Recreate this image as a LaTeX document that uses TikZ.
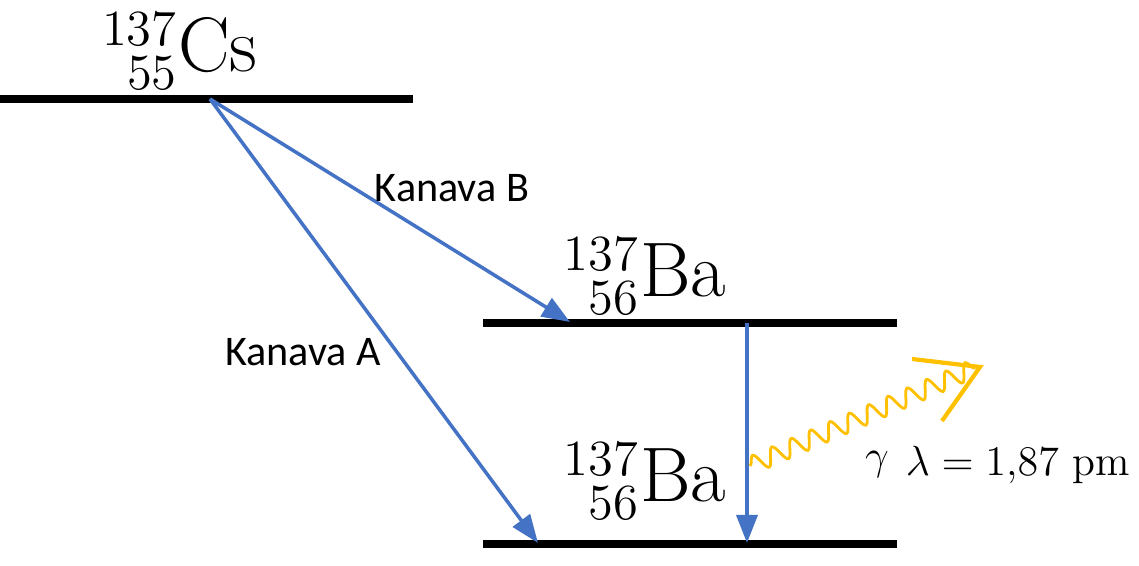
\documentclass[tikz,border=0pt]{standalone}
\usepackage{fontspec}
\setsansfont{Carlito}
\usetikzlibrary{decorations.pathmorphing,arrows.meta}
\definecolor{lineblue}{RGB}{68,114,196}
\definecolor{gammagold}{RGB}{255,192,0}
\tikzset{
  level/.style={line width=2.2pt},
  decay/.style={draw=lineblue,line width=1pt,-{Triangle[length=8pt,width=6pt]}},
  chan/.style={font=\sffamily\large},
  nuclide/.style={font=\fontsize{22}{26}\selectfont}
}
\begin{document}
\begin{tikzpicture}
  \useasboundingbox (0,0) rectangle (11.39,5.66);
  % levels
  \draw[level] (0,4.67) -- (4.13,4.67);
  \draw[level] (4.83,2.43) -- (8.97,2.43);
  \draw[level] (4.83,0.22) -- (8.97,0.22);
  \node[nuclide] (cs) at (1.8,5.15) {$^{137}_{\phantom{1}55}\mathrm{Cs}$};
  \node[nuclide] (ba1) at (6.45,2.90) {$^{137}_{\phantom{1}56}\mathrm{Ba}$};
  \node[nuclide] (ba2) at (6.45,0.85) {$^{137}_{\phantom{1}56}\mathrm{Ba}$};
  % decays
  \coordinate (start) at (2.10,4.67);
  \coordinate (endB) at (5.70,2.44);
  \coordinate (endA) at (5.38,0.23);
  \coordinate (top) at (7.47,2.43);
  \coordinate (bot) at (7.47,0.23);
  \draw[decay] (start) -- (endB);
  \draw[decay] (start) -- (endA);
  \draw[decay] (top) -- (bot);
  \node[chan] (kb) at (4.52,3.78) {Kanava B};
  \node[chan] (ka) at (3.03,2.14) {Kanava A};
  % gamma
  \coordinate (g0) at (7.50,1.00);
  \coordinate (g1) at (9.75,1.98);
  \draw[gammagold,line width=0.8pt,decorate,decoration={snake,amplitude=2.5pt,segment length=6pt}] (g0) -- (g1);
  \draw[gammagold,line width=1.2pt] (9.12,2.07) -- (9.80,1.99) -- (9.42,1.45);
  \node (gam) at (8.77,1.01) {\large$\gamma$};
  \node (lam) at (10.18,1.01) {\large$\lambda = 1{,}87\ \mathrm{pm}$};
\end{tikzpicture}
\end{document}
